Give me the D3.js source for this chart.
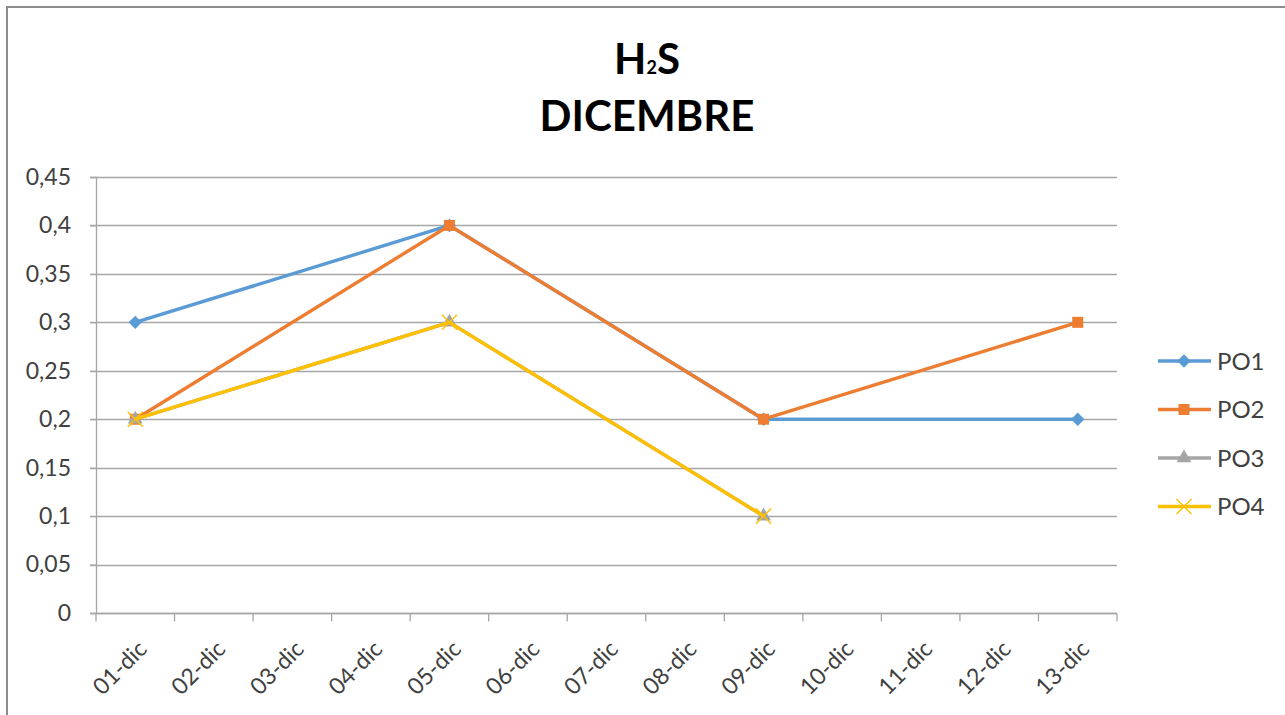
<!DOCTYPE html>
<html>
<head>
<meta charset="utf-8">
<script src="https://cdn.jsdelivr.net/npm/d3@7"></script>
<style>
  body { margin: 0; background: #fff; }
  svg { font-family: Lato, "Open Sans", sans-serif; }
</style>
</head>
<body>
<script>
// ---- data ----
var days = ["01-dic","02-dic","03-dic","04-dic","05-dic","06-dic","07-dic","08-dic","09-dic","10-dic","11-dic","12-dic","13-dic"];
var po1 = [{d:"01-dic",v:0.3},{d:"05-dic",v:0.4},{d:"09-dic",v:0.2},{d:"13-dic",v:0.2}];
var po2 = [{d:"01-dic",v:0.2},{d:"05-dic",v:0.4},{d:"09-dic",v:0.2},{d:"13-dic",v:0.3}];
var po3 = [{d:"01-dic",v:0.2},{d:"05-dic",v:0.3},{d:"09-dic",v:0.1}];
var po4 = [{d:"01-dic",v:0.2},{d:"05-dic",v:0.3},{d:"09-dic",v:0.1}];
var yTicks = [0,0.05,0.1,0.15,0.2,0.25,0.3,0.35,0.4,0.45];

var series = [
  {name:"PO1", data:po1, color:"#5B9BD5", sym:d3.symbolSquare, size:90, rot:45},
  {name:"PO2", data:po2, color:"#ED7D31", sym:d3.symbolSquare, size:121, rot:0},
  {name:"PO3", data:po3, color:"#A5A5A5", sym:d3.symbolTriangle, size:95, rot:0},
  {name:"PO4", data:po4, color:"#FFC000", sym:d3.symbolX, size:150, rot:0}
];

var W = 1285, H = 715;
var pLeft = 96, pRight = 1117, pTop = 177, pBottom = 613;

var svg = d3.select("body").append("svg")
    .attr("width", W)
    .attr("height", H);

// chart border
svg.append("rect")
    .attr("x", 7).attr("y", 7)
    .attr("width", W + 20).attr("height", H + 20)
    .attr("fill", "none")
    .attr("stroke", "#8c8c8c")
    .attr("stroke-width", 2);

var x = d3.scaleBand().domain(days).range([pLeft, pRight]);
var y = d3.scaleLinear().domain([0, 0.45]).range([pBottom, pTop]);

var fmt = function(v){ return d3.format("~g")(+v.toFixed(2)).replace(".", ","); };

// gridlines
svg.append("g")
  .selectAll("line")
  .data(yTicks)
  .enter().append("line")
    .attr("x1", pLeft - 6).attr("x2", pRight)
    .attr("y1", function(d){ return Math.round(y(d)) + 0.5; })
    .attr("y2", function(d){ return Math.round(y(d)) + 0.5; })
    .attr("stroke", "#a6a6a6")
    .attr("stroke-width", 1.3);

// y axis
var yAxis = svg.append("g")
    .attr("transform", "translate(" + pLeft + ",0)")
    .call(d3.axisLeft(y).tickValues(yTicks).tickFormat(fmt).tickSize(6).tickPadding(19));
yAxis.select(".domain").attr("stroke", "#a6a6a6").attr("stroke-width", 1.3);
yAxis.selectAll(".tick line").attr("stroke", "#a6a6a6");
yAxis.selectAll("text").attr("font-size", 23).attr("font-family", "Lato, sans-serif").attr("fill", "#404040");

// x axis
var xAxis = svg.append("g")
    .attr("transform", "translate(0," + (pBottom + 0.5) + ")");
xAxis.append("line")
    .attr("x1", pLeft).attr("x2", pRight)
    .attr("stroke", "#a6a6a6").attr("stroke-width", 1.3);
xAxis.selectAll(".xt")
  .data(days.concat(["end"]))
  .enter().append("line")
    .attr("x1", function(d, i){ return i < days.length ? x(d) : pRight; })
    .attr("x2", function(d, i){ return i < days.length ? x(d) : pRight; })
    .attr("y1", 0).attr("y2", 8)
    .attr("stroke", "#a6a6a6").attr("stroke-width", 1.3);
xAxis.selectAll(".xl")
  .data(days)
  .enter().append("text")
    .attr("transform", function(d){ return "translate(" + (x(d) + x.bandwidth()/2 + 13) + ",37) rotate(-45)"; })
    .attr("text-anchor", "end")
    .attr("font-size", 23)
    .attr("fill", "#404040")
    .text(function(d){ return d; });

// lines and markers
var line = d3.line()
    .x(function(d){ return x(d.d) + x.bandwidth()/2; })
    .y(function(d){ return y(d.v); });

var markerAttrs = function(sel, s){
  sel.attr("d", d3.symbol().type(s.sym).size(s.size))
    .attr("fill", s.sym == d3.symbolX ? "none" : s.color)
    .attr("stroke", s.sym == d3.symbolX ? s.color : "none")
    .attr("stroke-width", 1.4);
};

series.forEach(function(s){
  svg.append("path")
    .datum(s.data)
    .attr("d", line)
    .attr("fill", "none")
    .attr("stroke", s.color)
    .attr("stroke-width", 3.4)
    .attr("stroke-linejoin", "round");
  svg.selectAll(".m" + s.name)
    .data(s.data)
    .enter().append("path")
    .attr("transform", function(d){ return "translate(" + (x(d.d) + x.bandwidth()/2) + "," + y(d.v) + ") rotate(" + s.rot + ")"; })
    .call(markerAttrs, s);
});

// legend
var legend = svg.append("g");
series.forEach(function(s, i){
  var ly = 361 + i * 48.5;
  legend.append("line")
    .attr("x1", 1158).attr("x2", 1211)
    .attr("y1", ly).attr("y2", ly)
    .attr("stroke", s.color).attr("stroke-width", 3.4);
  legend.append("path")
    .attr("transform", "translate(1184," + ly + ") rotate(" + s.rot + ")")
    .call(markerAttrs, s);
  legend.append("text")
    .attr("x", 1217).attr("y", ly)
    .attr("dy", "0.36em")
    .attr("font-size", 24)
    .attr("fill", "#404040")
    .text(s.name);
});

// title
var title = svg.append("text")
    .attr("x", 647).attr("y", 74)
    .attr("text-anchor", "middle")
    .attr("font-size", 42)
    .attr("font-weight", "bold")
    .attr("fill", "#000");
title.append("tspan").text("H");
title.append("tspan").attr("font-size", 18).text("2");
title.append("tspan").text("S");
svg.append("text")
    .attr("x", 647).attr("y", 131)
    .attr("text-anchor", "middle")
    .attr("font-size", 42)
    .attr("font-weight", "bold")
    .attr("fill", "#000")
    .text("DICEMBRE");
</script>
</body>
</html>
